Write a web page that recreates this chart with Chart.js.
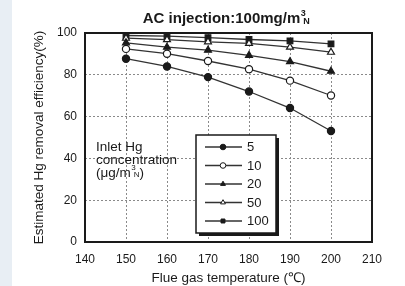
<!DOCTYPE html>
<html>
  <head>
    <meta charset="UTF-8">
    <style>
      body {
        margin: 0;
        background: #ffffff;
      }
      .strip {
        position: absolute;
        left: 0;
        top: 0;
        width: 12px;
        height: 286px;
        background: #e8eef4;
      }
      .canvas {
        position: absolute;
        left: 12px;
        top: 0;
      }
    </style>
  </head>
  <body>
    <div class="strip"></div>
    <div class="canvas">
      <canvas id="canvas" width="393" height="286"></canvas>
    </div>
    <script src="https://cdn.jsdelivr.net/npm/chart.js@4.4.1/dist/chart.umd.min.js"></script>
    <script>
    // flue gas temperature (°C)
    var temps = [150, 160, 170, 180, 190, 200];
    // inlet Hg concentration (µg/m3N)
    var concentrations = ['5', '10', '20', '50', '100'];
    // estimated removal efficiency (%) for each concentration
    var eff5 = [87.7, 84.0, 78.9, 72.0, 64.1, 53.1];
    var eff10 = [92.4, 90.1, 86.6, 82.7, 77.2, 70.1];
    var eff20 = [95.3, 93.2, 91.8, 89.3, 86.3, 81.7];
    var eff50 = [97.5, 96.8, 95.8, 95.0, 93.2, 90.8];
    var eff100 = [98.8, 98.5, 97.8, 96.9, 96.2, 94.8];
    var xTicks = [140, 150, 160, 170, 180, 190, 200, 210];
    var yTicks = [0, 20, 40, 60, 80, 100];

    var FONT = 'Arial, "Liberation Sans", sans-serif';
    var INK = '#1a1a1a';
    var GRID = '#8a8a8a';

    function points(values) {
        return temps.map(function(t, i) {
            return {x: t, y: values[i]};
        });
    }

    var markers = [
        {style: 'circle', fill: INK, radius: 3.6},
        {style: 'circle', fill: '#ffffff', radius: 3.6},
        {style: 'triangle', fill: INK, radius: 4},
        {style: 'triangle', fill: '#ffffff', radius: 4},
        {style: 'rect', fill: INK, radius: 4}
    ];
    var series = [eff5, eff10, eff20, eff50, eff100];

    var datasets = series.map(function(values, i) {
        return {
            label: concentrations[i],
            data: points(values),
            borderColor: '#333333',
            borderWidth: 1.3,
            pointStyle: markers[i].style,
            pointRadius: markers[i].radius,
            pointBackgroundColor: markers[i].fill,
            pointBorderColor: INK,
            pointBorderWidth: 1.2,
            tension: 0
        };
    });

    // text with a small superscript 3 and subscript N (m³N)
    function drawUnitText(ctx, text, x, y, size, bold) {
        var weight = bold ? 'bold ' : '';
        ctx.font = weight + size + 'px ' + FONT;
        ctx.fillText(text, x, y);
        var w = ctx.measureText(text).width;
        ctx.font = weight + Math.round(size * 0.6) + 'px ' + FONT;
        ctx.fillText('3', x + w + 0.5, y - size * 0.35);
        ctx.fillText('N', x + w + 3, y + size * 0.15);
        return x + w + 3 + ctx.measureText('N').width;
    }

    // dotted grid lines between the frame edges
    function gridColor(edgeA, edgeB) {
        return function(c) {
            if (c.tick && (c.tick.value === edgeA || c.tick.value === edgeB)) {
                return 'rgba(0,0,0,0)';
            }
            return GRID;
        };
    }

    var extras = {
        id: 'extras',
        afterDraw: function(chart) {
            var ctx = chart.ctx;
            var a = chart.chartArea;
            ctx.save();

            // plot frame
            ctx.strokeStyle = INK;
            ctx.lineWidth = 2;
            ctx.strokeRect(a.left, a.top, a.right - a.left, a.bottom - a.top);

            // title
            ctx.fillStyle = INK;
            ctx.textBaseline = 'middle';
            ctx.textAlign = 'left';
            ctx.font = 'bold 15px ' + FONT;
            var titleText = 'AC injection:100mg/m';
            var tw = ctx.measureText(titleText).width + 10;
            drawUnitText(ctx, titleText, (a.left + a.right) / 2 - tw / 2 - 2, 19, 15, true);

            // note on inlet concentration
            ctx.font = '13.5px ' + FONT;
            ctx.fillText('Inlet Hg', 84, 147);
            ctx.fillText('concentration', 84, 160);
            var end = drawUnitText(ctx, '(\u03bcg/m', 84, 173, 13.5, false);
            ctx.font = '13.5px ' + FONT;
            ctx.fillText(')', end, 173);

            // legend box with shadow
            var bx = 184, by = 135, bw = 80, bh = 98;
            ctx.fillStyle = INK;
            ctx.fillRect(bx + 3, by + 3, bw, bh);
            ctx.fillStyle = '#ffffff';
            ctx.fillRect(bx, by, bw, bh);
            ctx.strokeStyle = INK;
            ctx.lineWidth = 1.5;
            ctx.strokeRect(bx, by, bw, bh);

            chart.data.datasets.forEach(function(ds, i) {
                var y = by + 12 + i * 18.5;
                ctx.strokeStyle = '#333333';
                ctx.lineWidth = 1.3;
                ctx.beginPath();
                ctx.moveTo(bx + 9, y);
                ctx.lineTo(bx + 46, y);
                ctx.stroke();
                ctx.lineWidth = 1;
                ctx.fillStyle = ds.pointBackgroundColor;
                ctx.strokeStyle = INK;
                Chart.helpers.drawPoint(ctx, {pointStyle: ds.pointStyle, radius: 2.8, rotation: 0, borderWidth: 1}, bx + 27, y);
                ctx.fillStyle = INK;
                ctx.font = '13px ' + FONT;
                ctx.textAlign = 'left';
                ctx.fillText(ds.label, bx + 51, y + 0.5);
            });
            ctx.restore();
        }
    };

    var ctx = document.getElementById('canvas').getContext('2d');
    var chart = new Chart(ctx, {
        type: 'line',
        data: {
            datasets: datasets
        },
        plugins: [extras],
        options: {
            responsive: false,
            animation: false,
            devicePixelRatio: 1,
            layout: {
                padding: {top: 33, right: 33, left: 0, bottom: 0}
            },
            plugins: {
                legend: {display: false},
                title: {display: false},
                tooltip: {enabled: false}
            },
            scales: {
                x: {
                    type: 'linear',
                    min: 140,
                    max: 210,
                    afterBuildTicks: function(scale) {
                        scale.ticks = xTicks.map(function(v) { return {value: v}; });
                    },
                    afterFit: function(scale) {
                        scale.height = 44;
                    },
                    grid: {
                        color: gridColor(140, 210),
                        lineWidth: 1,
                        drawTicks: false
                    },
                    border: {display: false, dash: [2, 2]},
                    ticks: {
                        padding: 10,
                        color: INK,
                        font: {family: FONT, size: 12}
                    },
                    title: {
                        display: true,
                        text: 'Flue gas temperature (\u2103)',
                        color: INK,
                        font: {family: FONT, size: 13.5},
                        padding: {top: 0, bottom: 0}
                    }
                },
                y: {
                    min: 0,
                    max: 100,
                    afterBuildTicks: function(scale) {
                        scale.ticks = yTicks.map(function(v) { return {value: v}; });
                    },
                    afterFit: function(scale) {
                        scale.width = 73;
                    },
                    grid: {
                        color: gridColor(0, 100),
                        lineWidth: 1,
                        drawTicks: false
                    },
                    border: {display: false, dash: [2, 2]},
                    ticks: {
                        padding: 8,
                        color: INK,
                        font: {family: FONT, size: 12}
                    },
                    title: {
                        display: true,
                        text: 'Estimated Hg removal efficiency(%)',
                        color: INK,
                        font: {family: FONT, size: 13.5},
                        padding: {top: 19, bottom: 0}
                    }
                }
            }
        }
    });
    </script>
  </body>
</html>
